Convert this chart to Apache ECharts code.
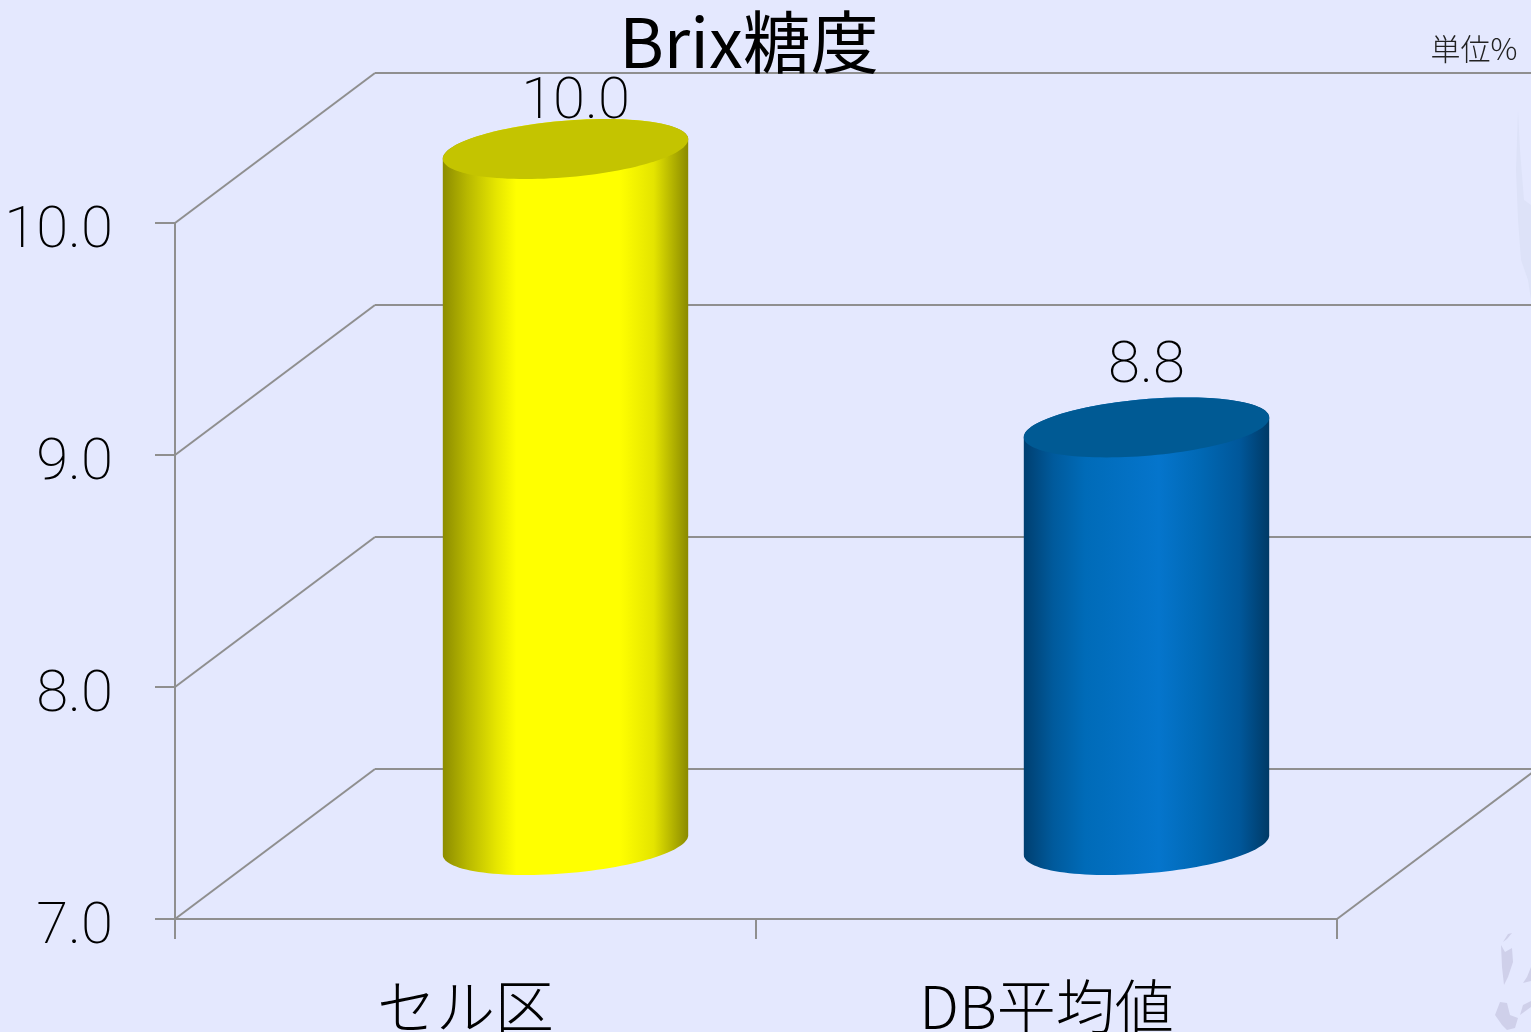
<!DOCTYPE html>
<html>
<head>
<meta charset="utf-8">
<style>html,body{margin:0;padding:0;background:#e4e8fe;overflow:hidden}#c{width:1531px;height:1032px}</style>
<script src="https://cdn.jsdelivr.net/npm/echarts@6/dist/echarts.min.js"></script>
</head>
<body>
<div id="c"></div>
<script>
const categories = ['セル区', 'DB平均値'];
const brixValues = [10.0, 8.8];
const yTicks = [7, 8, 9, 10];
const titleText = 'Brix糖度';
const unitText = '単位%';

const cjk = '"Noto Sans CJK JP","Noto Sans"';
const digits = 'Roboto,"Noto Sans"';
const gridColor = '#8f8f8f';
const depth = [200, -150];
const cylinderStyles = [
  {top:'#c4c400', lift:46, dx:10, stops:[[0,'#8c8c00'],[0.1,'#b8b800'],[0.22,'#e6e600'],[0.3,'#ffff00'],[0.72,'#ffff00'],[0.86,'#e4e400'],[1,'#8a8a00']]},
  {top:'#005a94', lift:60, dx:0, stops:[[0,'#003f70'],[0.12,'#005a9c'],[0.25,'#006bb8'],[0.55,'#0575cc'],[0.72,'#0068b4'],[0.88,'#00579a'],[1,'#003a66']]}
];
const A = 116, Bx = 40, By = 30;
function ringPoint(c, t){return [c[0]+A*Math.cos(t)+Bx*Math.sin(t), c[1]-By*Math.sin(t)];}

function renderCylinder(params, api){
  const i = api.value(0), v = api.value(1);
  const st = cylinderStyles[i];
  const base = api.coord([i, yTicks[0]]), head = api.coord([i, v]);
  const cBase = [base[0]+depth[0]/2, base[1]+depth[1]/2+1];
  const cHead = [head[0]+depth[0]/2, head[1]+depth[1]/2+1];
  const t0 = Math.atan2(Bx, A);
  const body = [], cap = [];
  for(let k=0;k<=60;k++){ body.push(ringPoint(cHead, t0+Math.PI*k/60)); }
  for(let k=0;k<=60;k++){ body.push(ringPoint(cBase, t0+Math.PI+Math.PI*k/60)); }
  for(let k=0;k<120;k++){ cap.push(ringPoint(cHead, Math.PI*2*k/120)); }
  return {type:'group', children:[
    {type:'polygon', shape:{points:body}, style:{fill:{type:'linear',x:0,y:0,x2:1,y2:0,colorStops:st.stops.map(s=>({offset:s[0],color:s[1]}))}}},
    {type:'polygon', shape:{points:cap}, style:{fill:st.top}},
    {type:'text', z2:50, style:{text:v.toFixed(1), x:cHead[0]+st.dx, y:cHead[1]-st.lift, align:'center', verticalAlign:'middle',
      font:'200 58px '+digits, fill:'#000'}}
  ]};
}
function renderDepthLine(params, api){
  const side = api.value(0), v = api.value(1);
  const cs = params.coordSys;
  const y = api.coord([0, v])[1];
  const x = side === 0 ? cs.x : cs.x + cs.width;
  return {type:'line', shape:{x1:x,y1:y,x2:x+depth[0],y2:y+depth[1]}, style:{stroke:gridColor,lineWidth:2}};
}

const wm = '#cfd0ea';
const watermark = [
  {c:wm, p:[[1512,933],[1508,934],[1503,942],[1507,939]]},
  {c:wm, p:[[1501,945],[1505,952],[1512,948],[1513,962],[1508,977],[1504,985],[1502,967]]},
  {c:wm, p:[[1531,967],[1527,977],[1523,983],[1531,981]]},
  {c:wm, p:[[1500,1002],[1507,1003],[1510,1015],[1518,1018],[1515,1028],[1507,1030],[1502,1025],[1495,1015]]},
  {c:wm, p:[[1531,1001],[1523,1005],[1520,1015],[1531,1007]]},
  {c:'#dde2f8', p:[[1518,110],[1520,150],[1524,200],[1531,205],[1531,300],[1528,280],[1521,260],[1518,220],[1516,170]]}
];

const chart = echarts.init(document.getElementById('c'), null, {renderer:'canvas'});
const front = {left:175, top:223, width:1162, height:696, outerBoundsMode:'none'};
chart.setOption({
  animation:false,
  backgroundColor:'#e4e8fe',
  graphic:watermark.map(w=>({type:'polygon', silent:true, z:0, shape:{points:w.p}, style:{fill:w.c}})),
  title:[
    {text:titleText, left:749, top:8, textAlign:'center', textStyle:{fontFamily:cjk, fontSize:68, fontWeight:400, color:'#000'}, padding:0, z:20},
    {text:unitText, left:1474, top:34, textAlign:'center', textStyle:{fontFamily:cjk, fontSize:30, fontWeight:300, color:'#222'}, padding:0, z:20}
  ],
  grid:[
    front,
    {left:front.left+depth[0], top:front.top+depth[1], width:front.width, height:front.height, outerBoundsMode:'none'}
  ],
  xAxis:[
    {gridIndex:0, type:'category', data:categories, axisLine:{show:true,lineStyle:{color:gridColor,width:2}},
      axisTick:{show:true,length:20,alignWithLabel:false,lineStyle:{color:gridColor,width:2}},
      axisLabel:{margin:58,fontFamily:cjk,fontSize:59,fontWeight:300,color:'#000'}},
    {gridIndex:1, type:'category', data:categories, show:false}
  ],
  yAxis:[
    {gridIndex:0, type:'value', min:yTicks[0], max:yTicks[yTicks.length-1], interval:1,
      axisLine:{show:true,lineStyle:{color:gridColor,width:2}},
      axisTick:{show:true,length:20,lineStyle:{color:gridColor,width:2}},
      splitLine:{show:false},
      axisLabel:{margin:62,formatter:v=>v.toFixed(1),fontFamily:digits,fontSize:58,fontWeight:200,color:'#000',verticalAlign:'top',lineHeight:18}},
    {gridIndex:1, type:'value', min:yTicks[0], max:yTicks[yTicks.length-1], interval:1,
      axisLine:{show:false},axisTick:{show:false},axisLabel:{show:false},
      splitLine:{show:true,lineStyle:{color:gridColor,width:2}}}
  ],
  series:[
    {type:'custom', xAxisIndex:0, yAxisIndex:0, z:3, renderItem:renderDepthLine, silent:true,
      data:yTicks.map(v=>[0,v]).concat([[1,yTicks[0]]]), encode:{x:-1,y:1}},
    {type:'custom', xAxisIndex:0, yAxisIndex:0, z:5, renderItem:renderCylinder, silent:true,
      data:brixValues.map((v,i)=>[i,v]), encode:{x:0,y:1}}
  ]
});
</script>
</body>
</html>
